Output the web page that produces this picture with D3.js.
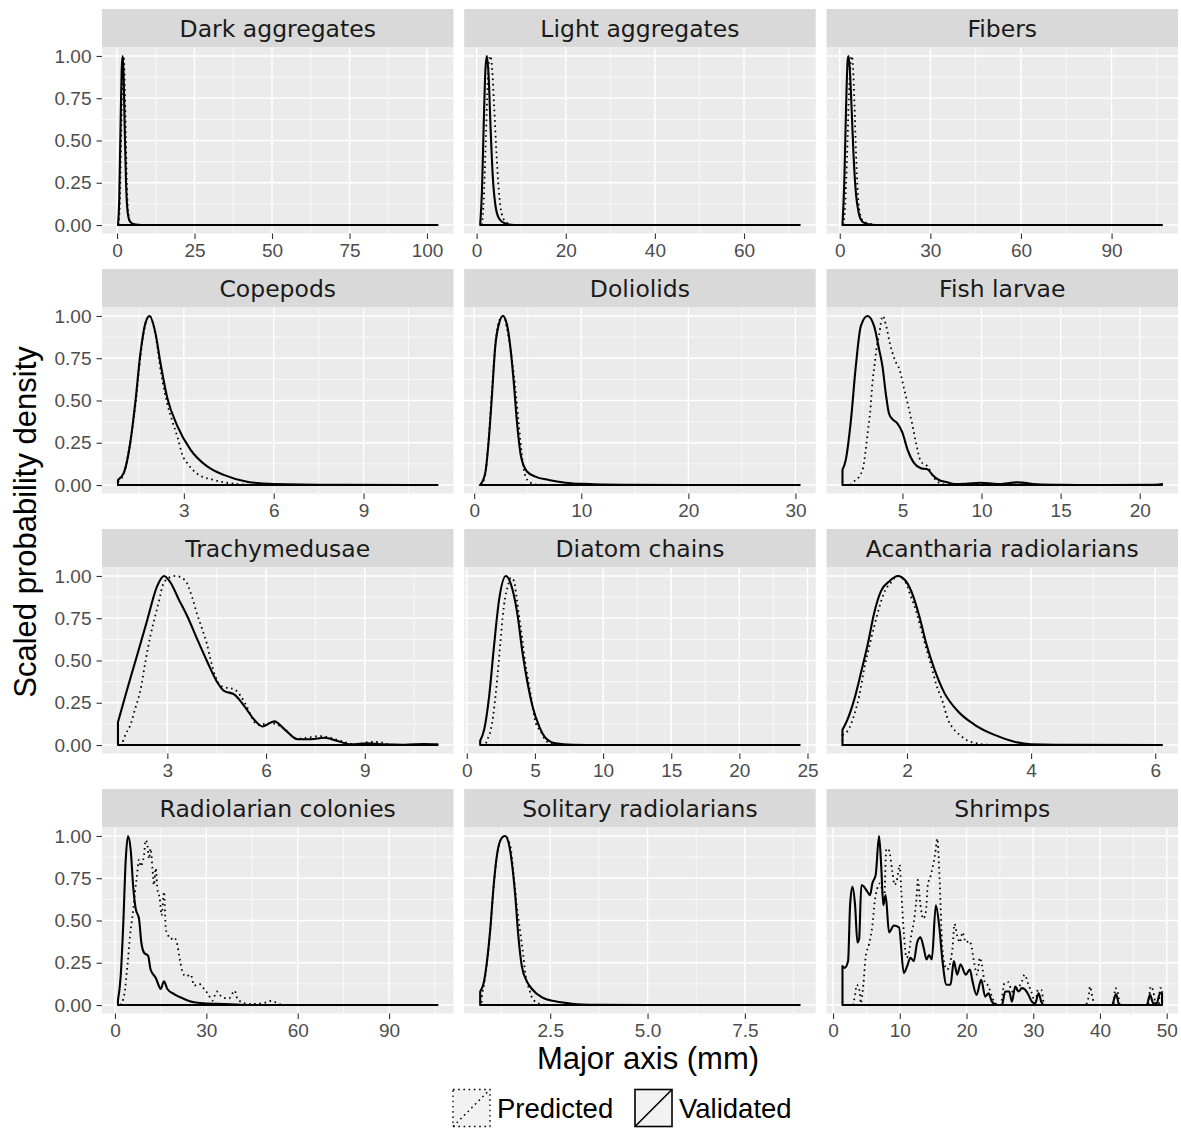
<!DOCTYPE html>
<html>
<head>
<meta charset="utf-8">
<title>Scaled probability density</title>
<script src="https://cdn.jsdelivr.net/npm/d3@7"></script>
<style>
    body { margin: 0; background: #fff; }
    text { font-family: "Liberation Sans", Arial, sans-serif; }
    .strip text { font-family: "DejaVu Sans", sans-serif; }
</style>
</head>
<body>
<script>
// facet names (row by row)
var categories = ["Dark aggregates", "Light aggregates", "Fibers",
    "Copepods", "Doliolids", "Fish larvae",
    "Trachymedusae", "Diatom chains", "Acantharia radiolarians",
    "Radiolarian colonies", "Solitary radiolarians", "Shrimps"];

var seriesNames = ["Predicted", "Validated"];

var yTicks = [0, 0.25, 0.5, 0.75, 1];

var xTicks = [
    [0, 25, 50, 75, 100],
    [0, 20, 40, 60],
    [0, 30, 60, 90],
    [3, 6, 9],
    [0, 10, 20, 30],
    [5, 10, 15, 20],
    [3, 6, 9],
    [0, 5, 10, 15, 20, 25],
    [2, 4, 6],
    [0, 30, 60, 90],
    [2.5, 5.0, 7.5],
    [0, 10, 20, 30, 40, 50]
];

// [major axis mm, scaled density]
var predicted = [
    [[0.5,0],[1.0,0.2],[1.4,0.6],[1.8,0.93],[2.1,1.0],[2.4,0.9],[2.8,0.55],[3.2,0.22],[3.7,0.06],[4.5,0.01],[6,0],[103.4,0]],
    [[1.2,0],[1.6,0.15],[2.0,0.45],[2.4,0.78],[2.8,0.97],[3.1,1.0],[3.5,0.92],[3.9,0.72],[4.4,0.45],[5.0,0.2],[5.6,0.07],[6.5,0.02],[8,0],[72.5,0]],
    [[1.2,0],[1.8,0.12],[2.4,0.4],[3.0,0.75],[3.6,0.96],[4.0,1.0],[4.4,0.93],[4.9,0.7],[5.4,0.42],[6.0,0.18],[6.8,0.06],[8,0.02],[10.5,0.005],[13,0],[106.7,0]],
    [[0.8,0.02],[1.0,0.07],[1.2,0.24],[1.4,0.5],[1.55,0.76],[1.7,0.94],[1.85,1.0],[2.05,0.89],[2.24,0.66],[2.44,0.485],[2.61,0.38],[2.8,0.277],[2.95,0.178],[3.11,0.13],[3.36,0.079],[3.61,0.05],[3.92,0.034],[4.23,0.02],[4.56,0.01],[4.9,0.004],[5.5,0],[11.47,0]],
    [[0.6,0],[1.0,0.05],[1.35,0.27],[1.65,0.55],[2.0,0.85],[2.4,0.98],[2.75,1.0],[3.05,0.93],[3.4,0.8],[3.8,0.6],[4.15,0.37],[4.45,0.18],[4.7,0.07],[5.2,0.015],[6,0.002],[8,0],[30.4,0]],
    [[1.7,0],[1.84,0.014],[2.26,0.05],[2.52,0.105],[2.68,0.21],[2.83,0.33],[2.96,0.43],[3.1,0.6],[3.25,0.72],[3.38,0.82],[3.53,0.89],[3.74,1.0],[3.95,0.95],[4.2,0.84],[4.52,0.74],[4.83,0.68],[5.1,0.57],[5.36,0.47],[5.63,0.355],[5.88,0.24],[6.16,0.14],[6.58,0.11],[6.9,0.06],[7.2,0.02],[7.84,0.002],[9,0],[21.41,0]],
    [[1.65,0.02],[1.73,0.063],[1.86,0.11],[2.03,0.22],[2.19,0.33],[2.34,0.5],[2.49,0.65],[2.64,0.77],[2.78,0.88],[2.85,0.94],[3.05,0.99],[3.25,1.0],[3.53,0.976],[3.76,0.87],[3.91,0.77],[4.07,0.68],[4.2,0.6],[4.32,0.5],[4.47,0.4],[4.63,0.35],[4.78,0.34],[5.03,0.33],[5.23,0.29],[5.38,0.24],[5.74,0.12],[6.14,0.13],[6.45,0.11],[6.96,0.037],[7.67,0.053],[7.97,0.043],[8.27,0.024],[8.78,0.004],[9.13,0.018],[9.43,0.018],[9.8,0.002],[11.21,0]],
    [[1.4,0.01],[1.52,0.034],[1.76,0.09],[1.93,0.17],[2.13,0.31],[2.32,0.47],[2.49,0.63],[2.62,0.75],[2.81,0.87],[2.98,0.93],[3.23,0.99],[3.47,0.97],[3.64,0.88],[3.84,0.76],[4.08,0.62],[4.28,0.49],[4.45,0.41],[4.7,0.29],[5.06,0.13],[5.43,0.08],[5.8,0.026],[6.29,0.006],[7,0],[24.43,0]],
    [[0.96,0.06],[1.07,0.1],[1.15,0.18],[1.23,0.29],[1.31,0.45],[1.39,0.58],[1.47,0.7],[1.55,0.81],[1.63,0.9],[1.74,0.96],[1.85,1.0],[1.98,0.96],[2.06,0.88],[2.14,0.8],[2.23,0.68],[2.31,0.57],[2.39,0.47],[2.47,0.36],[2.58,0.25],[2.66,0.15],[2.74,0.1],[2.85,0.06],[2.98,0.026],[3.12,0.01],[3.3,0.002],[3.6,0],[6.11,0]],
    [[1.8,0],[2.64,0.03],[3.3,0.09],[3.85,0.19],[4.4,0.29],[4.94,0.41],[5.49,0.49],[6.03,0.57],[6.6,0.67],[7.13,0.75],[7.9,0.86],[8.44,0.82],[8.99,0.84],[9.53,0.885],[10.08,0.975],[10.6,0.955],[11.2,0.865],[11.7,0.925],[12.3,0.81],[12.8,0.71],[13.4,0.81],[13.9,0.69],[14.7,0.63],[15.3,0.53],[16.1,0.67],[16.7,0.45],[17.5,0.41],[18.3,0.39],[19.4,0.4],[20.3,0.37],[21.4,0.26],[22.1,0.2],[23.2,0.17],[24.9,0.18],[26.0,0.115],[27.6,0.125],[29.3,0.095],[30.6,0.065],[32.0,0.026],[33.4,0.08],[35.3,0.045],[37.5,0.04],[39.3,0.085],[40.2,0.036],[41.8,0.016],[44.0,0.006],[48.9,0.012],[51.1,0.024],[52.8,0.016],[54.4,0.004],[57.8,0],[105.9,0]],
    [[0.74,0.05],[0.87,0.24],[0.96,0.45],[1.04,0.68],[1.13,0.88],[1.26,0.99],[1.34,1.0],[1.47,0.945],[1.56,0.77],[1.64,0.59],[1.73,0.43],[1.81,0.29],[1.87,0.17],[1.96,0.095],[2.04,0.04],[2.24,0.006],[2.5,0],[8.91,0]],
    [[3.0,0],[3.3,0.06],[3.55,0.12],[4.04,0.07],[4.14,0.01],[4.54,0.12],[4.89,0.285],[5.39,0.36],[5.89,0.47],[6.24,0.61],[6.63,0.69],[7.03,0.72],[7.38,0.67],[7.63,0.59],[7.98,0.925],[8.38,0.915],[8.88,0.79],[9.23,0.71],[9.63,0.75],[9.98,0.83],[10.2,0.69],[10.6,0.43],[11.0,0.28],[11.4,0.315],[11.7,0.41],[12.1,0.49],[12.5,0.63],[12.7,0.74],[13.1,0.59],[13.5,0.51],[13.9,0.55],[14.2,0.71],[14.6,0.76],[15.0,0.83],[15.4,0.925],[15.6,0.985],[16.0,0.71],[16.3,0.39],[16.6,0.26],[17.1,0.21],[17.9,0.335],[18.2,0.48],[18.6,0.41],[19.0,0.37],[19.4,0.43],[19.9,0.37],[20.4,0.38],[20.7,0.355],[21.1,0.26],[21.6,0.18],[22.0,0.28],[22.3,0.24],[22.7,0.14],[23.3,0.11],[23.8,0.05],[24.3,0.01],[25.1,0],[25.7,0.13],[26.3,0.135],[26.8,0.08],[27.7,0.1],[28.3,0.14],[28.7,0.18],[29.2,0.13],[29.7,0.08],[30.3,0.02],[30.7,0.09],[31.2,0.09],[31.6,0.01],[32.1,0],[37.8,0],[38.3,0.05],[38.5,0.11],[38.9,0.04],[39.3,0],[42.0,0],[42.3,0.1],[42.7,0.07],[43.0,0],[47.2,0],[47.6,0.11],[48.0,0.08],[48.4,0],[48.8,0],[49.0,0.1],[49.3,0.1]]
];

var validated = [
    [[0.3,0],[0.7,0.15],[1.1,0.55],[1.5,0.92],[1.8,1.0],[2.1,0.9],[2.5,0.55],[2.9,0.25],[3.4,0.08],[4.2,0.02],[5.5,0.005],[8,0],[103.4,0]],
    [[0.8,0],[1.2,0.2],[1.6,0.6],[2.0,0.93],[2.3,1.0],[2.7,0.88],[3.1,0.6],[3.6,0.3],[4.2,0.12],[5.0,0.04],[6.3,0.01],[8.5,0],[72.5,0]],
    [[0.9,0],[1.5,0.25],[2.1,0.7],[2.6,0.97],[2.9,1.0],[3.3,0.93],[3.9,0.7],[4.6,0.4],[5.4,0.18],[6.3,0.07],[7.5,0.02],[9.5,0.004],[12,0],[106.7,0]],
    [[0.8,0.03],[0.99,0.07],[1.21,0.25],[1.38,0.49],[1.55,0.78],[1.72,0.96],[1.85,1.0],[2.05,0.9],[2.22,0.72],[2.44,0.52],[2.78,0.35],[3.22,0.21],[3.78,0.11],[4.33,0.06],[5.11,0.02],[6.0,0.006],[8,0.001],[11.47,0]],
    [[0.56,0],[1.03,0.07],[1.34,0.25],[1.65,0.52],[1.97,0.82],[2.34,0.96],[2.68,1.0],[3.06,0.95],[3.37,0.82],[3.68,0.62],[4.0,0.37],[4.37,0.17],[4.93,0.08],[5.71,0.05],[6.96,0.03],[8.5,0.014],[10.7,0.006],[13.8,0.002],[20,0],[30.4,0]],
    [[1.21,0.09],[1.42,0.15],[1.74,0.38],[2.05,0.7],[2.37,0.94],[2.79,1.0],[3.21,0.94],[3.53,0.8],[3.74,0.7],[3.95,0.54],[4.16,0.42],[4.37,0.39],[4.68,0.365],[5.0,0.31],[5.32,0.21],[5.74,0.13],[6.16,0.1],[6.58,0.093],[6.9,0.06],[7.31,0.03],[7.84,0.016],[8.3,0.006],[9.0,0.008],[9.94,0.014],[11,0.006],[12.26,0.016],[13.5,0.004],[15,0.001],[18,0],[21.0,0.002],[21.41,0.006]],
    [[1.5,0.136],[1.78,0.33],[2.08,0.53],[2.39,0.74],[2.69,0.94],[2.9,1.0],[3.1,0.96],[3.35,0.86],[3.61,0.76],[3.91,0.625],[4.22,0.49],[4.52,0.37],[4.72,0.32],[5.03,0.3],[5.34,0.23],[5.64,0.15],[5.89,0.11],[6.25,0.14],[6.56,0.093],[6.96,0.034],[7.37,0.034],[7.77,0.043],[8.17,0.024],[8.58,0.004],[9.09,0.01],[9.5,0.004],[10.2,0.002],[10.8,0.006],[11.21,0.004]],
    [[0.98,0.026],[1.27,0.09],[1.64,0.29],[2.0,0.59],[2.37,0.86],[2.86,1.0],[3.35,0.92],[3.72,0.77],[4.08,0.55],[4.45,0.37],[4.82,0.23],[5.31,0.11],[5.8,0.04],[6.53,0.01],[7.75,0.002],[10,0],[24.43,0]],
    [[0.96,0.09],[1.04,0.15],[1.15,0.27],[1.26,0.43],[1.37,0.6],[1.47,0.78],[1.58,0.91],[1.72,0.97],[1.85,1.0],[1.98,0.97],[2.09,0.89],[2.2,0.76],[2.31,0.6],[2.44,0.45],[2.6,0.31],[2.82,0.2],[3.09,0.12],[3.41,0.06],[3.73,0.02],[4.0,0.004],[4.38,0.001],[6.11,0]],
    [[0.99,0.03],[1.88,0.17],[2.75,0.49],[3.51,0.85],[4.28,1.0],[5.15,0.92],[6.03,0.69],[6.8,0.57],[7.9,0.51],[8.66,0.37],[9.53,0.31],[10.9,0.29],[11.7,0.21],[13.4,0.16],[14.5,0.11],[15.0,0.095],[16.1,0.14],[17.2,0.095],[19.4,0.065],[22.7,0.036],[26.0,0.016],[29.3,0.01],[35.8,0.006],[41.3,0.002],[50,0],[105.9,0]],
    [[0.7,0.08],[0.79,0.13],[0.87,0.25],[0.96,0.45],[1.04,0.69],[1.13,0.885],[1.26,0.99],[1.34,1.0],[1.43,0.96],[1.51,0.85],[1.6,0.65],[1.68,0.41],[1.77,0.23],[1.9,0.14],[2.03,0.095],[2.29,0.045],[2.63,0.022],[3.06,0.008],[3.66,0.002],[5,0],[8.91,0]],
    [[1.41,0.23],[1.75,0.22],[2.25,0.26],[2.55,0.59],[2.9,0.7],[3.3,0.59],[3.65,0.37],[3.9,0.39],[4.24,0.71],[4.64,0.7],[5.14,0.67],[5.54,0.65],[5.89,0.72],[6.39,0.77],[6.89,1.0],[7.23,0.81],[7.53,0.59],[7.88,0.65],[8.38,0.43],[9.12,0.47],[9.88,0.46],[10.6,0.19],[11.1,0.23],[11.6,0.28],[12.1,0.26],[12.6,0.37],[13.1,0.4],[13.6,0.335],[14.0,0.27],[14.4,0.295],[14.8,0.27],[15.4,0.59],[15.9,0.47],[16.4,0.26],[17.0,0.12],[17.6,0.12],[18.1,0.26],[18.6,0.18],[19.1,0.24],[19.9,0.18],[20.5,0.21],[20.9,0.14],[21.5,0.06],[22.2,0.15],[22.8,0.05],[23.3,0.07],[23.8,0.02],[24.6,0],[25.3,0],[25.8,0.08],[26.4,0.08],[26.8,0.02],[27.3,0.11],[27.8,0.08],[28.3,0.1],[28.8,0.09],[29.3,0.06],[29.8,0.02],[30.3,0.01],[30.8,0.07],[31.2,0.02],[31.6,0],[41.8,0],[42.4,0.065],[42.9,0],[47.0,0],[47.5,0.06],[48.0,0.01],[48.5,0.01],[49.0,0.07],[49.3,0.07]]
];

var w = 1181, h = 1129;
var colX = [102, 464.2, 826.5];
var rowY = [9, 269, 529, 789];
var panelW = 351.5, panelH = 186, stripH = 38.5;
var dotted = "1.6,3.6";

var svg = d3.select("body").append("svg")
    .attr("width", w)
    .attr("height", h);

svg.append("rect").attr("width", w).attr("height", h).attr("fill", "#fff");

function midpoints(ticks, dom) {
    var step = ticks.length > 1 ? ticks[1] - ticks[0] : 1;
    var m = [ticks[0] - step / 2];
    ticks.forEach(function(t) { m.push(t + step / 2); });
    return m.filter(function(v) { return v > dom[0] && v < dom[1]; });
}

categories.forEach(function(name, i) {
    var col = i % 3, row = Math.floor(i / 3);
    var x0 = colX[col], top = rowY[row];

    // strip
    var strip = svg.append("g").attr("class", "strip")
        .attr("transform", "translate(" + x0 + "," + top + ")");
    strip.append("rect").attr("width", panelW).attr("height", stripH).attr("fill", "#d9d9d9");
    strip.append("text")
        .attr("x", panelW / 2).attr("y", stripH / 2)
        .attr("dy", "0.36em")
        .attr("text-anchor", "middle")
        .attr("font-size", "23.5px")
        .attr("fill", "#1a1a1a")
        .text(name);

    var g = svg.append("g").attr("transform", "translate(" + x0 + "," + (top + stripH) + ")");

    var ext = d3.extent(predicted[i].concat(validated[i]), function(d) { return d[0]; });
    var pad = (ext[1] - ext[0]) * 0.05;
    var x = d3.scaleLinear().domain([ext[0] - pad, ext[1] + pad]).range([0, panelW]);
    var y = d3.scaleLinear().domain([-0.05, 1.05]).range([panelH, 0]);

    g.append("rect").attr("width", panelW).attr("height", panelH).attr("fill", "#ebebeb");

    // minor grid
    g.selectAll(".minx").data(midpoints(xTicks[i], x.domain())).enter().append("line")
        .attr("x1", function(d) { return x(d); }).attr("x2", function(d) { return x(d); })
        .attr("y1", 0).attr("y2", panelH)
        .attr("stroke", "#fff").attr("stroke-width", 0.7);
    g.selectAll(".miny").data(midpoints(yTicks, y.domain())).enter().append("line")
        .attr("x1", 0).attr("x2", panelW)
        .attr("y1", function(d) { return y(d); }).attr("y2", function(d) { return y(d); })
        .attr("stroke", "#fff").attr("stroke-width", 0.7);
    // major grid
    g.selectAll(".majx").data(xTicks[i]).enter().append("line")
        .attr("x1", function(d) { return x(d); }).attr("x2", function(d) { return x(d); })
        .attr("y1", 0).attr("y2", panelH)
        .attr("stroke", "#fff").attr("stroke-width", 1.4);
    g.selectAll(".majy").data(yTicks).enter().append("line")
        .attr("x1", 0).attr("x2", panelW)
        .attr("y1", function(d) { return y(d); }).attr("y2", function(d) { return y(d); })
        .attr("stroke", "#fff").attr("stroke-width", 1.4);

    // density outlines
    var area = d3.area()
        .x(function(d) { return x(d[0]); })
        .y0(y(0))
        .y1(function(d) { return y(d[1]); })
        .curve(d3.curveMonotoneX);

    g.append("path").datum(predicted[i])
        .attr("d", area)
        .attr("fill", "none")
        .attr("stroke", "#000")
        .attr("stroke-width", 1.8)
        .attr("stroke-dasharray", dotted);
    g.append("path").datum(validated[i])
        .attr("d", area)
        .attr("fill", "none")
        .attr("stroke", "#000")
        .attr("stroke-width", 2.1)
        .attr("stroke-linejoin", "round");

    // x axis
    var integer = xTicks[i].every(function(t) { return t === Math.round(t); });
    var xa = g.append("g")
        .attr("transform", "translate(0," + panelH + ")")
        .call(d3.axisBottom(x).tickValues(xTicks[i])
            .tickFormat(d3.format(integer ? "d" : ".1f"))
            .tickSize(5.5).tickPadding(4.5));
    xa.select(".domain").remove();
    xa.selectAll("line").attr("stroke", "#333").attr("stroke-width", 1.1);
    xa.selectAll("text").attr("fill", "#4d4d4d").attr("font-size", "19px")
        .attr("font-family", "Liberation Sans, Arial, sans-serif");

    if (col === 0) {
        var ya = g.append("g")
            .call(d3.axisLeft(y).tickValues(yTicks)
                .tickFormat(d3.format(".2f"))
                .tickSize(5.5).tickPadding(5));
        ya.select(".domain").remove();
        ya.selectAll("line").attr("stroke", "#333").attr("stroke-width", 1.1);
        ya.selectAll("text").attr("fill", "#4d4d4d").attr("font-size", "19px")
            .attr("font-family", "Liberation Sans, Arial, sans-serif");
    }
});

// axis titles
svg.append("text")
    .attr("x", 648).attr("y", 1069)
    .attr("text-anchor", "middle")
    .attr("font-size", "31px")
    .attr("fill", "#000")
    .text("Major axis (mm)");

svg.append("text")
    .attr("transform", "translate(36,522) rotate(-90)")
    .attr("text-anchor", "middle")
    .attr("font-size", "31px")
    .attr("fill", "#000")
    .text("Scaled probability density");

// legend
var keyX = [453, 635], keyY = 1089.5, keyS = 37;
var legend = svg.append("g");
seriesNames.forEach(function(s, k) {
    var kg = legend.append("g").attr("transform", "translate(" + keyX[k] + "," + keyY + ")");
    var dash = k === 0 ? dotted : null;
    kg.append("rect").attr("width", keyS).attr("height", keyS)
        .attr("fill", "#f2f2f2")
        .attr("stroke", "#000").attr("stroke-width", k === 0 ? 1.3 : 1.6)
        .attr("stroke-dasharray", dash);
    kg.append("line")
        .attr("x1", 0).attr("y1", keyS).attr("x2", keyS).attr("y2", 0)
        .attr("stroke", "#000").attr("stroke-width", k === 0 ? 1.5 : 1.6)
        .attr("stroke-dasharray", dash);
    kg.append("text")
        .attr("x", keyS + 7).attr("y", keyS / 2)
        .attr("dy", "0.36em")
        .attr("font-size", "27.5px")
        .attr("fill", "#000")
        .text(s);
});
</script>
</body>
</html>
